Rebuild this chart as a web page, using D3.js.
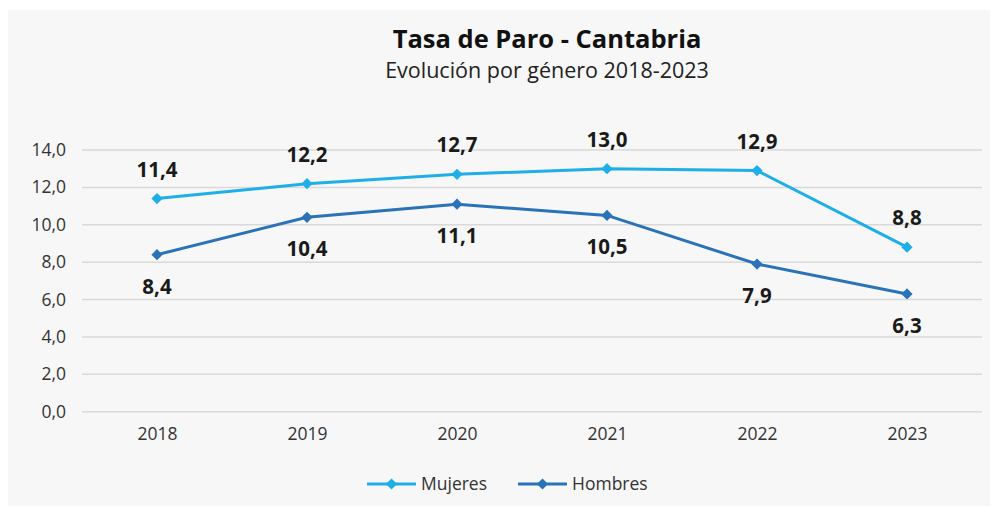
<!DOCTYPE html>
<html><head><meta charset="utf-8">
<script src="https://cdn.jsdelivr.net/npm/d3@7"></script>
<style>body{margin:0;background:#fff}svg{display:block}text{font-family:"Open Sans",sans-serif}</style>
</head><body>
<svg id="c" width="995" height="513"></svg>
<script>
const years = ["2018","2019","2020","2021","2022","2023"];
const mujeres = [11.4,12.2,12.7,13.0,12.9,8.8];
const hombres = [8.4,10.4,11.1,10.5,7.9,6.3];
const yTicks = [0,2,4,6,8,10,12,14];
const seriesNames = ["Mujeres","Hombres"];
const colors = ["#1eaee8","#2a73b8"];

const svg = d3.select("#c");
svg.append("rect").attr("x",8).attr("y",10).attr("width",982).attr("height",496).attr("fill","#f7f7f7");

const x = d3.scalePoint().domain(years).range([157,907]).padding(0);
const y = d3.scaleLinear().domain([0,14]).range([411.7,150]);
const fmt = v => d3.format(".1f")(v).replace(".",",");

// grid
svg.append("g").selectAll("line").data(yTicks).join("line")
  .attr("x1",82).attr("x2",982).attr("y1",d=>y(d)).attr("y2",d=>y(d))
  .attr("stroke","#d9d9d9").attr("stroke-width",1.5);

// y axis
const ya = svg.append("g").attr("transform","translate(82,0)")
  .call(d3.axisLeft(y).tickValues(yTicks).tickSize(0).tickPadding(16).tickFormat(fmt));
ya.select(".domain").remove();
ya.selectAll("text").attr("font-size",17.5).attr("fill","#333").attr("font-family","Open Sans");

// x axis
const xa = svg.append("g").attr("transform","translate(0,411.7)")
  .call(d3.axisBottom(x).tickSize(0).tickPadding(16));
xa.select(".domain").remove();
xa.selectAll("text").attr("font-size",17.5).attr("fill","#333").attr("font-family","Open Sans");

const data = [mujeres, hombres];
const line = d3.line().x((d,i)=>x(years[i])).y(d=>y(d));
const diamond = d3.symbol().type(d3.symbolDiamond2).size(80);

data.forEach((vals,si)=>{
  svg.append("path").attr("d",line(vals)).attr("fill","none").attr("stroke",colors[si]).attr("stroke-width",3);
  svg.append("g").selectAll("path").data(vals).join("path")
    .attr("d",diamond).attr("transform",(d,i)=>`translate(${x(years[i])},${y(d)})`).attr("fill",colors[si]);
  svg.append("g").selectAll("text").data(vals).join("text")
    .attr("x",(d,i)=>x(years[i])).attr("y",d=>y(d)+(si===0?-22:39))
    .attr("text-anchor","middle").attr("font-size",20.5).attr("font-weight","bold").attr("fill","#1a1a1a")
    .text(fmt);
});

// title
svg.append("text").attr("x",547).attr("y",48).attr("text-anchor","middle")
  .attr("font-size",25.5).attr("font-weight","bold").attr("fill","#111").text("Tasa de Paro - Cantabria");
svg.append("text").attr("x",547).attr("y",78).attr("text-anchor","middle")
  .attr("font-size",21.5).attr("fill","#222").text("Evolución por género 2018-2023");

// legend
const lg = [{x:367},{x:518}];
seriesNames.forEach((n,i)=>{
  const g = svg.append("g").attr("transform",`translate(${lg[i].x},484)`);
  g.append("line").attr("x1",0).attr("x2",49).attr("stroke",colors[i]).attr("stroke-width",3);
  g.append("path").attr("d",diamond).attr("transform","translate(24.5,0)").attr("fill",colors[i]);
  g.append("text").attr("x",54).attr("y",6).attr("font-size",17.5).attr("fill","#333").text(n);
});
</script>
</body></html>
